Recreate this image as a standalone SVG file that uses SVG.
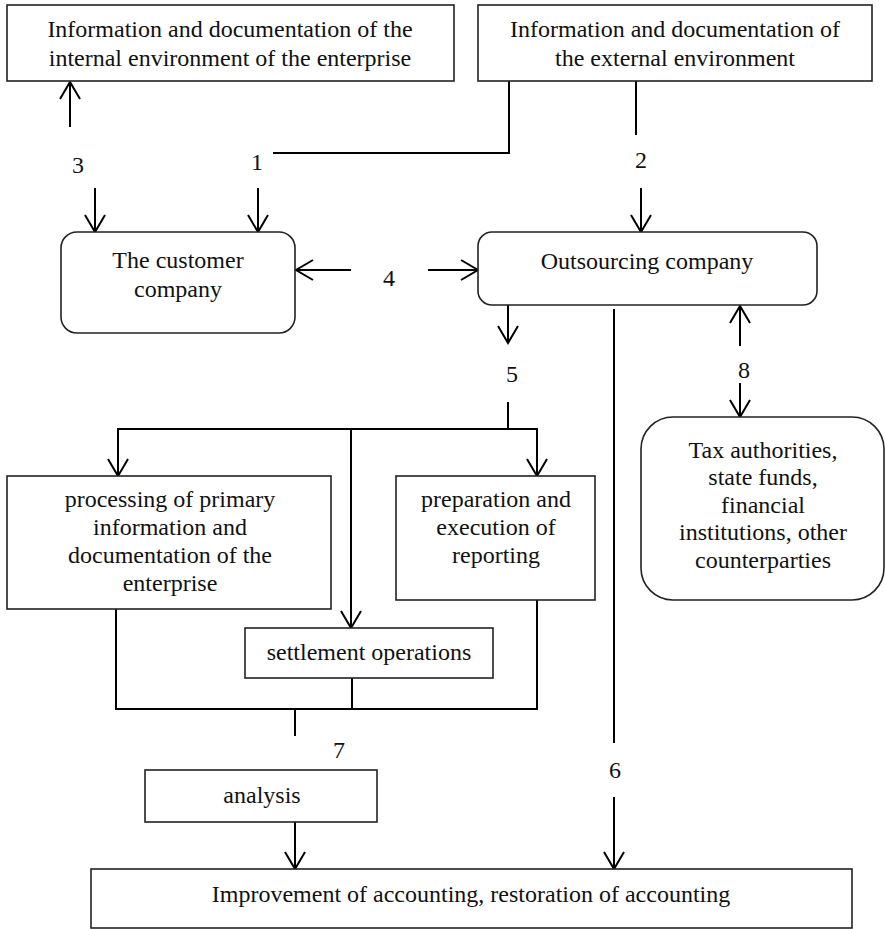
<svg xmlns="http://www.w3.org/2000/svg" width="885" height="929" viewBox="0 0 885 929">
<style>
.box{fill:#fff;stroke:#222;stroke-width:1.6}
.t{font-family:'Liberation Serif','Times New Roman','DejaVu Serif',serif;font-size:24px;fill:#111;text-anchor:middle}
.c{fill:none;stroke:#000;stroke-width:2}
</style>
<defs>
<marker id="ah" viewBox="-19 -12 21 24" markerWidth="21" markerHeight="24" refX="0" refY="0" orient="auto" markerUnits="userSpaceOnUse">
<path d="M-17,-10 L0,0 L-17,10" fill="none" stroke="#000" stroke-width="2"/>
</marker>
</defs>
<rect width="885" height="929" fill="#fff"/>
<g id="connectors">
<line class="c" x1="70" y1="127" x2="70" y2="82" marker-end="url(#ah)"/>
<polyline class="c" points="273,153 509,153 509,81"/>
<line class="c" x1="95" y1="188" x2="95" y2="232" marker-end="url(#ah)"/>
<line class="c" x1="258" y1="188" x2="258" y2="232" marker-end="url(#ah)"/>
<line class="c" x1="636" y1="81" x2="636" y2="135"/>
<line class="c" x1="641" y1="188" x2="641" y2="232" marker-end="url(#ah)"/>
<line class="c" x1="351" y1="270" x2="296" y2="270" marker-end="url(#ah)"/>
<line class="c" x1="428" y1="270" x2="478" y2="270" marker-end="url(#ah)"/>
<line class="c" x1="508" y1="305" x2="508" y2="343" marker-end="url(#ah)"/>
<line class="c" x1="740" y1="346" x2="740" y2="306" marker-end="url(#ah)"/>
<line class="c" x1="740" y1="383" x2="740" y2="417" marker-end="url(#ah)"/>
<line class="c" x1="614" y1="309" x2="614" y2="743"/>
<line class="c" x1="614" y1="797" x2="614" y2="869" marker-end="url(#ah)"/>
<line class="c" x1="508" y1="402" x2="508" y2="429"/>
<line class="c" x1="117" y1="429" x2="538" y2="429"/>
<line class="c" x1="118" y1="429" x2="118" y2="476" marker-end="url(#ah)"/>
<line class="c" x1="537" y1="429" x2="537" y2="476" marker-end="url(#ah)"/>
<line class="c" x1="351" y1="429" x2="351" y2="628" marker-end="url(#ah)"/>
<polyline class="c" points="116,609 116,709 537,709 537,600"/>
<line class="c" x1="352" y1="678" x2="352" y2="709"/>
<line class="c" x1="295" y1="709" x2="295" y2="736"/>
<line class="c" x1="295" y1="822" x2="295" y2="869" marker-end="url(#ah)"/>
</g>
<g id="labels">
<text class="t" x="78" y="173">3</text>
<text class="t" x="257" y="170">1</text>
<text class="t" x="641" y="168">2</text>
<text class="t" x="389" y="286">4</text>
<text class="t" x="512" y="382">5</text>
<text class="t" x="744" y="378">8</text>
<text class="t" x="615" y="778">6</text>
<text class="t" x="339" y="758">7</text>
</g>
<g id="internal">
<rect class="box" x="7" y="5" width="447" height="76"/>
<text class="t" x="230" y="37">Information and documentation of the</text>
<text class="t" x="230" y="66">internal environment of the enterprise</text>
</g>
<g id="external">
<rect class="box" x="478" y="5" width="394" height="76"/>
<text class="t" x="675" y="37">Information and documentation of</text>
<text class="t" x="675" y="66">the external environment</text>
</g>
<g id="customer">
<rect class="box" x="61" y="232" width="234" height="101" rx="16"/>
<text class="t" x="178" y="268">The customer</text>
<text class="t" x="178" y="297">company</text>
</g>
<g id="outsourcing">
<rect class="box" x="478" y="232" width="339" height="73" rx="14"/>
<text class="t" x="647" y="269">Outsourcing company</text>
</g>
<g id="tax">
<rect class="box" x="641" y="417" width="243" height="183" rx="32"/>
<text class="t" x="763" y="458">Tax authorities,</text>
<text class="t" x="763" y="485">state funds,</text>
<text class="t" x="763" y="513">financial</text>
<text class="t" x="763" y="540">institutions, other</text>
<text class="t" x="763" y="568">counterparties</text>
</g>
<g id="processing">
<rect class="box" x="7" y="476" width="324" height="133"/>
<text class="t" x="170" y="507">processing of primary</text>
<text class="t" x="170" y="535">information and</text>
<text class="t" x="170" y="563">documentation of the</text>
<text class="t" x="170" y="591">enterprise</text>
</g>
<g id="preparation">
<rect class="box" x="396" y="476" width="199" height="124"/>
<text class="t" x="496" y="507">preparation and</text>
<text class="t" x="496" y="535">execution of</text>
<text class="t" x="496" y="563">reporting</text>
</g>
<g id="settlement">
<rect class="box" x="245" y="628" width="248" height="50"/>
<text class="t" x="369" y="660">settlement operations</text>
</g>
<g id="analysis">
<rect class="box" x="145" y="770" width="232" height="52"/>
<text class="t" x="262" y="803">analysis</text>
</g>
<g id="improvement">
<rect class="box" x="91" y="869" width="761" height="59"/>
<text class="t" x="471" y="902">Improvement of accounting, restoration of accounting</text>
</g>
</svg>
